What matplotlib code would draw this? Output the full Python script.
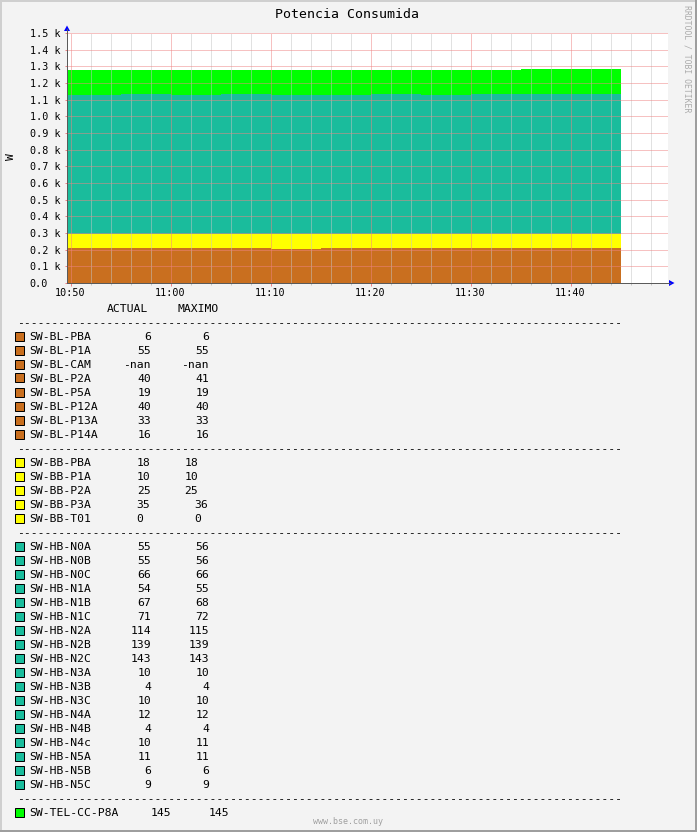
"""
RRDtool-style stacked power chart: Potencia Consumida.
"""

import matplotlib
matplotlib.use("Agg")
import matplotlib.pyplot as plt
from matplotlib.patches import Rectangle, Polygon
from matplotlib.lines import Line2D
from matplotlib.ticker import MultipleLocator
import numpy as np

# === Data ===
# 5-minute RRD steps (start of each step) and end of the last step
SEG_START = ["10:45", "10:50", "10:55", "11:00", "11:05", "11:10",
             "11:15", "11:20", "11:25", "11:30", "11:35", "11:40"]
DATA_END = "11:45"

# group totals per step (W)
BL_TOTAL = [212, 212, 212, 212, 212, 204, 212, 212, 212, 212, 212, 212]
BB_TOTAL = [85, 85, 85, 85, 85, 93, 85, 85, 85, 85, 85, 85]
HB_TOTAL = [831, 831, 837, 831, 837, 831, 831, 837, 831, 837, 837, 837]
TEL_TOTAL = [150, 150, 144, 150, 144, 150, 150, 144, 150, 144, 150, 150]

TIME_LABELS = ["10:50", "11:00", "11:10", "11:20", "11:30", "11:40"]
Y_TICKS = list(range(0, 1501, 100))

BL_NAMES = ["SW-BL-PBA", "SW-BL-P1A", "SW-BL-CAM", "SW-BL-P2A",
            "SW-BL-P5A", "SW-BL-P12A", "SW-BL-P13A", "SW-BL-P14A"]
BL_ACTUAL = ["6", "55", "-nan", "40", "19", "40", "33", "16"]
BL_MAX = ["6", "55", "-nan", "41", "19", "40", "33", "16"]

BB_NAMES = ["SW-BB-PBA", "SW-BB-P1A", "SW-BB-P2A", "SW-BB-P3A", "SW-BB-T01"]
BB_ACTUAL = ["18", "10", "25", "35", "0"]
BB_MAX = ["18", "10", "25", "36", "0"]

HB_NAMES = ["SW-HB-N0A", "SW-HB-N0B", "SW-HB-N0C", "SW-HB-N1A", "SW-HB-N1B",
            "SW-HB-N1C", "SW-HB-N2A", "SW-HB-N2B", "SW-HB-N2C", "SW-HB-N3A",
            "SW-HB-N3B", "SW-HB-N3C", "SW-HB-N4A", "SW-HB-N4B", "SW-HB-N4c",
            "SW-HB-N5A", "SW-HB-N5B", "SW-HB-N5C"]
HB_ACTUAL = ["55", "55", "66", "54", "67", "71", "114", "139", "143",
             "10", "4", "10", "12", "4", "10", "11", "6", "9"]
HB_MAX = ["56", "56", "66", "55", "68", "72", "115", "139", "143",
          "10", "4", "10", "12", "4", "11", "11", "6", "9"]

TEL_NAMES = ["SW-TEL-CC-P8A"]
TEL_ACTUAL = ["145"]
TEL_MAX = ["145"]

# === Style ===
W, H = 697, 832
MONO = "DejaVu Sans Mono"
BG = "#F3F3F3"
C_BL = "#C96F1F"
C_BB = "#FFFF00"
C_HB = "#1ABC9C"
C_TEL = "#00FF00"
MGRID = "#EE8484"
GRID = "#C4C4C4"
AXIS = "#5A5A5A"
ARROW = "#0000FF"
PX = 0.72  # one pixel in points at 100 dpi


def fx(x):
    return x / W


def fy(y):
    return 1 - y / H


def minutes(hhmm):
    h, m = map(int, hhmm.split(":"))
    return h * 60 + m - (10 * 60 + 50)


def ext(values):
    return list(values) + [values[-1]]


fig = plt.figure(figsize=(W / 100, H / 100), dpi=100, facecolor=BG)

# frame
fig.add_artist(Rectangle((0, fy(2)), 1, 2 / H, transform=fig.transFigure, color="#CFCFCF", lw=0))
fig.add_artist(Rectangle((0, 0), 2 / W, 1, transform=fig.transFigure, color="#CFCFCF", lw=0))
fig.add_artist(Rectangle((fx(695), 0), 2 / W, 1, transform=fig.transFigure, color="#9E9E9E", lw=0))
fig.add_artist(Rectangle((0, 0), 1, 2 / H, transform=fig.transFigure, color="#9E9E9E", lw=0))

# === Plot area ===
ax = fig.add_axes([fx(67), fy(283), (668 - 67) / W, (283 - 33) / H])
ax.set_facecolor("white")
for s in ax.spines.values():
    s.set_visible(False)

x = [minutes(t) for t in SEG_START] + [minutes(DATA_END)]
ax.stackplot(x, ext(BL_TOTAL), ext(BB_TOTAL), ext(HB_TOTAL), ext(TEL_TOTAL),
             colors=[C_BL, C_BB, C_HB, C_TEL], step="post", linewidth=0,
             antialiased=False)

ax.set_xlim(-0.35, 59.75)
ax.set_ylim(0, 1500)

ax.set_xticks([minutes(t) for t in TIME_LABELS], TIME_LABELS)
ax.xaxis.set_minor_locator(MultipleLocator(2))
ax.set_yticks(Y_TICKS, ["0.0"] + [f"{v / 1000:.1f} k" for v in Y_TICKS[1:]])

# dotted grid drawn above the areas, as rrdtool does
ax.grid(which="major", axis="both", color=MGRID, linestyle=(0, (1, 1)), linewidth=PX)
ax.grid(which="minor", axis="x", color=GRID, linestyle=(0, (1, 1)), linewidth=PX)

ax.tick_params(axis="x", which="major", length=3 * PX, width=PX, color=MGRID,
               pad=1.6, labelsize=7.3, labelfontfamily=MONO, labelcolor="black")
ax.tick_params(axis="x", which="minor", length=2 * PX, width=PX, color=GRID)
ax.tick_params(axis="y", which="major", length=2.5 * PX, width=PX, color=MGRID,
               pad=(67 - 29.7 - 2.5) * PX, labelsize=7.3, labelfontfamily=MONO,
               labelcolor="black")
for lbl in ax.get_yticklabels():
    lbl.set_horizontalalignment("left")

# axis lines and arrows
fig.add_artist(Line2D([fx(67), fx(67)], [fy(283), fy(29)], color=AXIS, lw=PX))
fig.add_artist(Line2D([fx(67), fx(670)], [fy(283), fy(283)], color=AXIS, lw=PX))
fig.add_artist(Polygon([(fx(64), fy(31)), (fx(70), fy(31)), (fx(67), fy(25.5))],
                       closed=True, transform=fig.transFigure, color=ARROW, lw=0))
fig.add_artist(Polygon([(fx(669), fy(280)), (fx(669), fy(286)), (fx(674.5), fy(283))],
                       closed=True, transform=fig.transFigure, color=ARROW, lw=0))

# titles and side texts
fig.text(fx(347), fy(18.5), "Potencia Consumida", ha="center", va="baseline",
         family=MONO, size=9.5)
fig.text(fx(10.5), fy(156.5), "W", ha="center", va="center", rotation=90,
         family=MONO, size=8.2)
fig.text(fx(687.5), fy(59), "RRDTOOL / TOBI OETIKER", ha="center", va="center",
         rotation=-90, family=MONO, size=5.9, color="#ABABAB")
fig.text(fx(348), fy(824), "www.bse.com.uy", ha="center", va="baseline",
         family=MONO, size=6, color="#A0A0A0")

# === Legend ===
LEG = 8.2


def row_text(n, xpos, s, ha="left"):
    fig.text(fx(xpos), fy(312.3 + 14 * n), s, ha=ha, va="baseline",
             family=MONO, size=LEG)


def dashes(n):
    row_text(n, 16.6, "-" * 88)


row_text(0, 107, "ACTUAL")
row_text(0, 177, "MAXIMO")

groups = [
    (BL_NAMES, BL_ACTUAL, BL_MAX, C_BL),
    (BB_NAMES, BB_ACTUAL, BB_MAX, C_BB),
    (HB_NAMES, HB_ACTUAL, HB_MAX, C_HB),
    (TEL_NAMES, TEL_ACTUAL, TEL_MAX, C_TEL),
]
# RRDtool tab stops put the yellow and green columns in slightly different places
BB_MAX_LEFT = [184.2, 184.2, 184.2, 194.2, 194.2]

n = 1
for gi, (names, actual, maxima, color) in enumerate(groups):
    dashes(n)
    n += 1
    for i, name in enumerate(names):
        yc = 308 + 14 * n
        fig.add_artist(Rectangle((fx(15), fy(yc + 4.5)), 9 / W, 9 / H,
                                 transform=fig.transFigure, facecolor=color,
                                 edgecolor="black", lw=PX))
        row_text(n, 29.6, name)
        if gi == 1:
            row_text(n, 136.7, actual[i])
            row_text(n, BB_MAX_LEFT[i], maxima[i])
        elif gi == 3:
            row_text(n, 151, actual[i])
            row_text(n, 208.3, maxima[i])
        else:
            row_text(n, 151, actual[i], ha="right")
            row_text(n, 209, maxima[i], ha="right")
        n += 1

fig.savefig("out.png", dpi=100, facecolor=BG)
